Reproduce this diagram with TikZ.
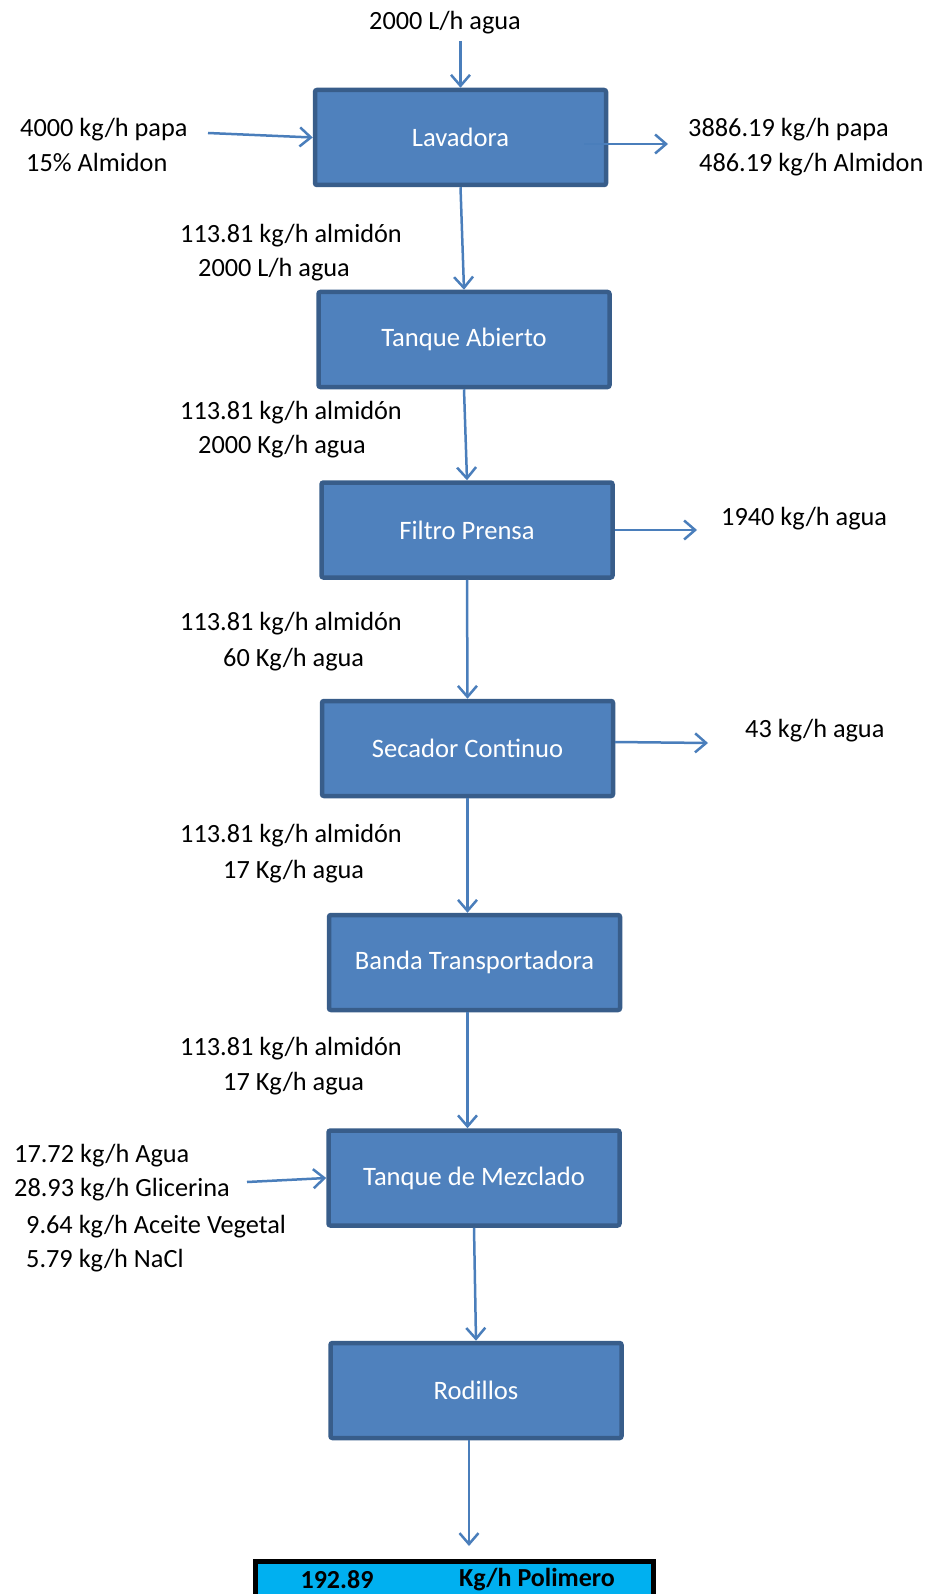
\documentclass[tikz,border=0pt]{standalone}
\usepackage{fontspec}
\setmainfont{Carlito}
\usetikzlibrary{arrows.meta}
\definecolor{boxfill}{RGB}{79,129,189}
\definecolor{boxdraw}{RGB}{56,93,138}
\definecolor{arrowc}{RGB}{74,126,187}
\definecolor{cyanfill}{RGB}{0,176,240}
\begin{document}
\begin{tikzpicture}[x=1pt,y=-1pt,
  procbox/.style={draw=boxdraw,fill=boxfill,line width=4.5pt,rounded corners=2pt,
    minimum width=291pt,minimum height=95pt,inner sep=0pt,text=white,
    font=\fontsize{26.6}{32}\selectfont},
  lbl/.style={anchor=mid west,inner sep=0pt,font=\fontsize{26.3}{32}\selectfont},
  flow/.style={draw=arrowc,line width=2.5pt,-{Straight Barb[length=11pt,width=19pt,line width=2.5pt]}}]
\useasboundingbox (0,0) rectangle (930,1594);
% boxes
\node[procbox] (lav) at (460.5,137.5) {Lavadora};
\node[procbox] (ta) at (464,339.5) {Tanque Abierto};
\node[procbox] (fp) at (467,530) {Filtro Prensa};
\node[procbox] (sc) at (467.5,748.5) {Secador Continuo};
\node[procbox] (bt) at (474.5,962.5) {Banda Transportadora};
\node[procbox] (mz) at (474,1178) {Tanque de Mezclado};
\node[procbox] (rd) at (476,1390.5) {Rodillos};
\node[draw=black,fill=cyanfill,line width=4.5pt,minimum width=398pt,minimum height=50pt,inner sep=0pt,anchor=north west] (out) at (253.25,1559.25) {};
\node[inner sep=0pt,font=\fontsize{26}{30}\selectfont\bfseries] (outa) at (337,1580) {192.89};
\node[inner sep=0pt,font=\fontsize{26}{30}\selectfont\bfseries] (outb) at (537,1580) {Kg/h Polimero};
% labels
\node[lbl] (t1) at (369,27) {2000 L/h agua};
\node[lbl] (l1) at (20,134) {4000 kg/h papa};
\node[lbl] (l2) at (26,169) {15\%\ Almidon};
\node[lbl] (r1) at (688,134) {3886.19 kg/h papa};
\node[lbl] (r2) at (699,169) {486.19 kg/h Almidon};
\node[lbl] (a1) at (180,240) {113.81 kg/h almidón};
\node[lbl] (a2) at (198,274) {2000 L/h agua};
\node[lbl] (b1) at (180,417) {113.81 kg/h almidón};
\node[lbl] (b2) at (198,451) {2000 Kg/h agua};
\node[lbl] (c1) at (180,628) {113.81 kg/h almidón};
\node[lbl] (c2) at (223,664) {60 Kg/h agua};
\node[lbl] (fr) at (721,523) {1940 kg/h agua};
\node[lbl] (sr) at (745,735) {43 kg/h agua};
\node[lbl] (d1) at (180,840) {113.81 kg/h almidón};
\node[lbl] (d2) at (223,876) {17 Kg/h agua};
\node[lbl] (e1) at (180,1053) {113.81 kg/h almidón};
\node[lbl] (e2) at (223,1088) {17 Kg/h agua};
\node[lbl] (m1) at (14,1160) {17.72 kg/h Agua};
\node[lbl] (m2) at (14,1194) {28.93 kg/h Glicerina};
\node[lbl] (m3) at (26,1231) {9.64 kg/h Aceite Vegetal};
\node[lbl] (m4) at (26,1265) {5.79 kg/h NaCl};
% coordinates
\coordinate (ctop) at (460.5,41);
\coordinate (cleft) at (208,133);
\coordinate (crs) at (584,144);
\coordinate (cre) at (668,144);
\coordinate (cfe) at (697,530);
\coordinate (css) at (615,742);
\coordinate (cse) at (708,743);
\coordinate (cml) at (247,1182);
\coordinate (cend) at (469,1546);
% connectors
\draw[flow] (ctop) -- (lav.north);
\draw[flow] (cleft) -- (lav.west);
\draw[flow] (crs) -- (cre);
\draw[flow] (lav.south) -- (ta.north);
\draw[flow] (ta.south) -- (fp.north);
\draw[flow] (fp.east) -- (cfe);
\draw[flow] (fp.south) -- (sc.north);
\draw[flow] (css) -- (cse);
\draw[flow] (sc.south) -- (sc.south |- bt.north);
\draw[flow] (bt.south -| sc.south) -- (sc.south |- mz.north);
\draw[flow] (cml) -- (mz.west);
\draw[flow] (mz.south) -- (rd.north);
\draw[flow] (rd.south -| cend) -- (cend);
\end{tikzpicture}
\end{document}
